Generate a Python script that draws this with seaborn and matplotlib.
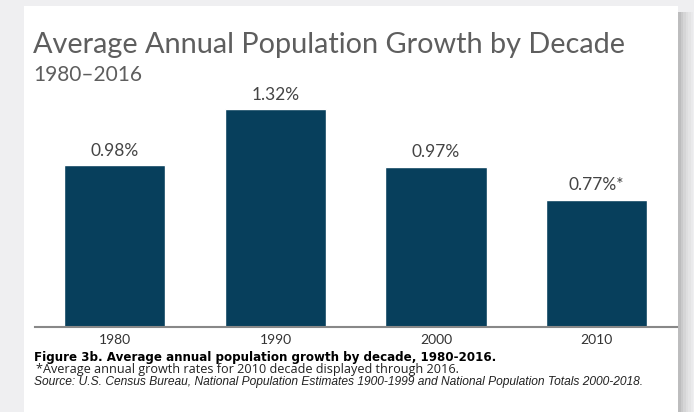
import matplotlib
matplotlib.use("Agg")
import matplotlib.pyplot as plt
from matplotlib.patches import Rectangle
import pandas as pd
import seaborn as sns

decades = ["1980", "1990", "2000", "2010"]
growth = [0.98, 1.32, 0.97, 0.77]
footnote_mark = ["", "", "", "*"]

title = "Average Annual Population Growth by Decade"
subtitle = "1980\u20132016"
caption = "Figure 3b. Average annual population growth by decade, 1980-2016."
note = "*Average annual growth rates for 2010 decade displayed through 2016."
source = ("Source: U.S. Census Bureau, National Population Estimates 1900-1999 "
          "and National Population Totals 2000-2018.")

df = pd.DataFrame({"decade": decades, "growth": growth})

sns.set_style("white")
plt.rcParams["font.family"] = ["Lato", "DejaVu Sans"]

W, H = 694, 412
fig = plt.figure(figsize=(W / 100, H / 100), dpi=100, facecolor="#efeff1")

# white card with a soft shadow on the right
for i, a in enumerate([0.32, 0.24, 0.17, 0.11, 0.07, 0.03]):
    fig.add_artist(Rectangle(((678 + i * 2.5) / W, 0), 2.5 / W, (H - 12) / H,
                             transform=fig.transFigure, facecolor="#555555",
                             alpha=a, edgecolor="none", zorder=-2))
fig.add_artist(Rectangle((24 / W, 0), (678 - 24) / W, (H - 6) / H,
                         transform=fig.transFigure, facecolor="white",
                         edgecolor="none", zorder=-1))

ax = fig.add_axes([34.5 / W, 85 / H, (677 - 34.5) / W, 248 / H])
ax.set_facecolor("none")
sns.barplot(data=df, x="decade", y="growth", color="#073f5c", width=0.63,
            saturation=1, ax=ax)
ax.set_xlim(-0.5, 3.5)
ax.set_ylim(0, 1.5)

labels = [f"{v:.2f}%{m}" for v, m in zip(growth, footnote_mark)]
ax.bar_label(ax.containers[0], labels=labels, padding=4.5, fontsize=12.5,
             color="#444444")

ax.set_xlabel("")
ax.set_ylabel("")
ax.set_yticks([])
ax.tick_params(axis="x", length=0, pad=5, labelsize=10, labelcolor="#333333")
for s in ["top", "right", "left"]:
    ax.spines[s].set_visible(False)
ax.spines["bottom"].set_color("#888888")
ax.spines["bottom"].set_linewidth(1.5)

fig.text(33 / W, 1 - 53 / H, title, fontsize=20.8, color="#5e5e5e",
         va="baseline")
fig.text(33 / W, 1 - 81 / H, subtitle, fontsize=15, color="#5e5e5e",
         va="baseline")
fig.text(34 / W, 1 - 361 / H, caption, fontsize=8.6, fontweight="bold",
         family="DejaVu Sans", color="black", va="baseline")
fig.text(36 / W, 1 - 372.5 / H, note, fontsize=9.1, family="Open Sans",
         color="#222222", va="baseline")
fig.text(34 / W, 1 - 384.5 / H, source, fontsize=8.65, style="italic",
         family="Liberation Sans", color="#222222", va="baseline")

fig.savefig("out.png", dpi=100, facecolor=fig.get_facecolor())
